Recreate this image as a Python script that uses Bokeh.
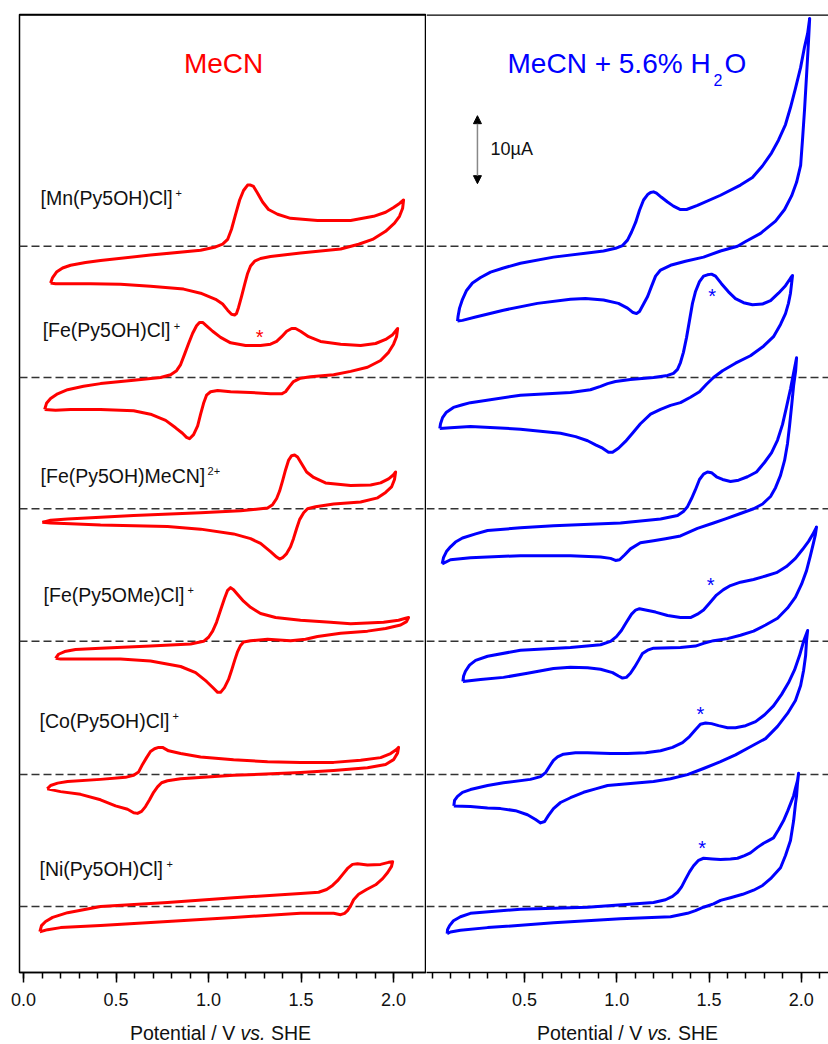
from bokeh.plotting import figure
from bokeh.layouts import row, column
from bokeh.models import (Span, Label, Arrow, NormalHead, FixedTicker, Range1d,
                          PrintfTickFormatter, Div)
from bokeh.embed import file_html
from bokeh.resources import INLINE

# ---------------- data: potential (V vs. SHE), current (µA, relative to baseline) ----
BASELINES = [106.8, 87.5, 68.2, 48.7, 29.1, 9.7]   # vertical offset of each trace (µA)
COMPOUNDS = ["[Mn(Py5OH)Cl]", "[Fe(Py5OH)Cl]", "[Fe(Py5OH)MeCN]",
             "[Fe(Py5OMe)Cl]", "[Co(Py5OH)Cl]", "[Ni(Py5OH)Cl]"]
CHARGES = ["+", "+", "2+", "+", "+", "+"]
MAJOR_TICKS_L = [0.0, 0.5, 1.0, 1.5, 2.0]
MAJOR_TICKS_R = [0.5, 1.0, 1.5, 2.0]
MINOR_TICKS = [0.0, 0.1, 0.2, 0.3, 0.4, 0.5, 0.6, 0.7, 0.8, 0.9, 1.0,
               1.1, 1.2, 1.3, 1.4, 1.5, 1.6, 1.7, 1.8, 1.9, 2.0, 2.1]

# ---- MeCN (left) ----
L_MN_E = [0.146, 0.157, 0.178, 0.211, 0.254, 0.335, 0.416, 0.686, 0.957, 1.038, 1.076, 1.103,
          1.124, 1.146, 1.168, 1.189, 1.211, 1.227, 1.243, 1.265, 1.292, 1.324, 1.373, 1.443,
          1.589, 1.768, 1.892, 1.957, 2.000, 2.032, 2.054,
          2.049, 2.032, 2.005, 1.957, 1.886, 1.811, 1.714, 1.497, 1.335, 1.281, 1.249, 1.227,
          1.211, 1.195, 1.178, 1.162, 1.151, 1.141, 1.124, 1.103, 1.076, 1.038, 0.957, 0.865,
          0.686, 0.524, 0.362, 0.238, 0.173, 0.146]
L_MN_I = [-5.4, -4.6, -3.8, -3.2, -2.8, -2.4, -2.1, -1.3, -0.6, -0.1, 0.3, 1.0,
          2.5, 4.7, 6.8, 8.2, 9.0, 9.0, 8.8, 7.8, 6.5, 5.4, 4.7, 4.1,
          3.8, 3.8, 4.4, 5.0, 5.7, 6.3, 6.8,
          5.6, 4.4, 3.4, 2.2, 1.0, 0.3, -0.4, -1.0, -1.5, -1.8, -2.2, -2.9,
          -4.0, -5.6, -7.4, -9.0, -9.9, -10.1, -10.0, -9.4, -8.5, -7.8, -6.9, -6.3,
          -5.9, -5.6, -5.5, -5.5, -5.5, -5.4]

L_FEOH_E = [0.114, 0.124, 0.146, 0.184, 0.238, 0.324, 0.416, 0.595, 0.741, 0.795, 0.827, 0.849,
            0.870, 0.892, 0.914, 0.935, 0.951, 0.968, 0.989, 1.022, 1.065, 1.119, 1.200, 1.281,
            1.335, 1.368, 1.395, 1.422, 1.449, 1.470, 1.497, 1.541, 1.605, 1.714, 1.822, 1.903,
            1.957, 1.995, 2.022,
            2.016, 2.000, 1.973, 1.930, 1.859, 1.768, 1.676, 1.551, 1.497, 1.459, 1.438, 1.416,
            1.395, 1.335, 1.227, 1.119, 1.049, 1.011, 0.989, 0.973, 0.957, 0.941, 0.919, 0.897,
            0.881, 0.859, 0.822, 0.768, 0.686, 0.595, 0.416, 0.254, 0.173, 0.114]
L_FEOH_I = [-4.7, -3.8, -3.1, -2.4, -1.8, -1.3, -0.9, -0.4, 0.0, 0.4, 1.0, 1.9,
            3.4, 5.0, 6.5, 7.6, 8.1, 8.1, 7.6, 6.8, 5.9, 5.1, 4.7, 4.7,
            4.9, 5.3, 6.0, 6.8, 7.2, 7.2, 6.8, 6.0, 5.3, 4.9, 4.7, 5.0,
            5.6, 6.3, 7.2,
            6.0, 4.9, 3.7, 2.5, 1.5, 0.9, 0.4, 0.1, -0.1, -0.6, -1.3, -2.1,
            -2.4, -2.4, -2.2, -2.1, -1.9, -2.1, -2.6, -3.8, -5.4, -7.1, -8.4, -9.0,
            -8.8, -8.2, -7.4, -6.3, -5.4, -4.9, -4.7, -4.7, -4.8, -4.7]

L_FEMECN_E = [0.101, 0.146, 0.238, 0.416, 0.595, 0.957, 1.173, 1.319, 1.346, 1.368, 1.384, 1.400,
              1.416, 1.432, 1.449, 1.465, 1.481, 1.503, 1.530, 1.568, 1.632, 1.768, 1.876, 1.930,
              1.973, 2.000, 2.011,
              2.005, 1.989, 1.957, 1.914, 1.822, 1.676, 1.578, 1.535, 1.514, 1.492, 1.476, 1.459,
              1.443, 1.422, 1.400, 1.384, 1.368, 1.335, 1.281, 1.227, 1.135, 0.957, 0.778, 0.416,
              0.254, 0.146, 0.101]
L_FEMECN_I = [-2.0, -1.7, -1.5, -1.25, -1.0, -0.6, -0.3, 0.1, 0.6, 1.5, 2.6, 4.1,
              5.7, 7.1, 7.8, 7.9, 7.6, 6.6, 5.4, 4.6, 3.8, 3.4, 3.5, 3.8,
              4.4, 5.0, 5.4,
              4.3, 3.2, 2.4, 1.6, 1.0, 0.7, 0.3, 0.0, -0.6, -1.6, -2.9, -4.4,
              -5.6, -6.6, -7.2, -7.4, -7.1, -6.3, -5.1, -4.4, -3.7, -3.0, -2.6, -2.4,
              -2.2, -2.1, -2.0]

L_FEOME_E = [0.173, 0.189, 0.222, 0.281, 0.416, 0.686, 0.903, 0.973, 1.000, 1.022, 1.043, 1.065,
             1.086, 1.103, 1.119, 1.135, 1.157, 1.189, 1.227, 1.281, 1.362, 1.497, 1.659, 1.768,
             1.946, 2.027, 2.065, 2.081,
             2.070, 2.038, 1.957, 1.859, 1.714, 1.589, 1.524, 1.443, 1.319, 1.227, 1.189, 1.173,
             1.157, 1.141, 1.124, 1.108, 1.086, 1.065, 1.049, 1.027, 0.989, 0.930, 0.849, 0.686,
             0.524, 0.308, 0.200, 0.173]
L_FEOME_I = [-2.5, -1.9, -1.5, -1.2, -1.0, -0.7, -0.4, 0.0, 0.6, 1.5, 2.8, 4.6,
             6.3, 7.5, 7.9, 7.6, 6.9, 5.9, 5.0, 4.1, 3.5, 3.1, 2.8, 2.6,
             2.8, 3.1, 3.4, 3.5,
             2.9, 2.4, 1.9, 1.5, 1.2, 0.7, 0.3, 0.1, 0.3, 0.1, -0.1, -0.6,
             -1.5, -2.8, -4.3, -5.6, -6.8, -7.5, -7.5, -6.9, -5.9, -4.6, -3.7, -2.9,
             -2.6, -2.6, -2.6, -2.5]

L_CO_E = [0.128, 0.146, 0.184, 0.238, 0.416, 0.551, 0.595, 0.622, 0.643, 0.665, 0.686, 0.708,
          0.730, 0.751, 0.784, 0.849, 0.957, 1.135, 1.319, 1.497, 1.676, 1.822, 1.930, 1.984,
          2.016, 2.027,
          2.022, 2.000, 1.957, 1.859, 1.676, 1.497, 1.135, 0.849, 0.778, 0.746, 0.724, 0.703,
          0.681, 0.659, 0.638, 0.616, 0.595, 0.562, 0.497, 0.416, 0.308, 0.200, 0.128]
L_CO_I = [-2.1, -1.6, -1.25, -1.0, -0.7, -0.4, -0.1, 0.4, 1.5, 2.5, 3.4, 3.8,
          4.0, 4.0, 3.5, 3.1, 2.6, 2.2, 1.9, 1.8, 1.8, 2.1, 2.5, 3.1,
          3.7, 4.0,
          3.2, 2.2, 1.5, 1.0, 0.6, 0.3, -0.1, -0.6, -0.9, -1.2, -1.8, -2.6,
          -3.7, -4.7, -5.4, -5.7, -5.6, -5.1, -4.6, -3.7, -2.9, -2.5, -2.1]

L_NI_E = [0.088, 0.097, 0.119, 0.157, 0.238, 0.416, 0.778, 1.135, 1.497, 1.595, 1.638, 1.670,
          1.697, 1.724, 1.751, 1.778, 1.805, 1.859, 1.930, 1.973, 1.995,
          1.989, 1.968, 1.941, 1.903, 1.854, 1.811, 1.784, 1.768, 1.751, 1.735, 1.714, 1.676,
          1.497, 1.135, 0.778, 0.416, 0.200, 0.130, 0.088]
L_NI_I = [-3.7, -2.8, -2.2, -1.6, -0.9, 0.0, 0.6, 1.3, 1.9, 2.1, 2.5, 3.1,
          3.8, 4.7, 5.6, 6.2, 6.3, 6.1, 6.2, 6.5, 6.6,
          5.9, 5.0, 4.1, 3.2, 2.5, 1.8, 1.0, 0.1, -0.6, -1.0, -1.2, -1.0,
          -1.0, -1.6, -2.2, -2.8, -3.1, -3.4, -3.7]

# ---- MeCN + 5.6% H2O (right) ----
R_MN_E = [0.137, 0.140, 0.148, 0.164, 0.186, 0.218, 0.262, 0.316, 0.386, 0.478, 0.657, 0.928,
          0.993, 1.031, 1.058, 1.080, 1.102, 1.123, 1.145, 1.167, 1.183, 1.199, 1.215, 1.242,
          1.275, 1.307, 1.345, 1.378, 1.437, 1.562, 1.670, 1.735, 1.789, 1.838, 1.876, 1.914,
          1.941, 1.968, 1.996, 2.017, 2.034, 2.045,
          2.039, 2.028, 2.017, 2.006, 1.996, 1.974, 1.947, 1.909, 1.860, 1.779, 1.698, 1.654,
          1.562, 1.470, 1.372, 1.291, 1.237, 1.210, 1.188, 1.167, 1.145, 1.123, 1.107, 1.085,
          1.058, 1.009, 0.928, 0.830, 0.749, 0.570, 0.386, 0.235, 0.164, 0.137]
R_MN_I = [-11.0, -10.3, -9.1, -7.8, -6.5, -5.4, -4.6, -3.8, -3.2, -2.5, -1.6, -0.7,
          -0.3, 0.1, 0.9, 2.1, 3.5, 5.3, 6.8, 7.6, 7.9, 8.0, 7.8, 7.2,
          6.5, 5.9, 5.4, 5.4, 6.0, 7.5, 9.0, 10.1, 11.8, 13.7, 15.6, 17.9,
          20.4, 23.2, 26.3, 29.3, 31.3, 33.5,
          30.3, 25.1, 20.0, 15.6, 11.9, 9.4, 7.4, 5.4, 3.7, 1.9, 0.7, 0.0,
          -0.7, -1.6, -2.2, -2.8, -3.5, -4.4, -5.9, -7.4, -8.5, -9.6, -9.9, -9.7,
          -9.1, -8.4, -7.9, -7.7, -7.8, -8.4, -9.4, -10.4, -10.9, -11.0]

R_FEOH_E = [0.041, 0.045, 0.056, 0.077, 0.115, 0.164, 0.207, 0.478, 0.749, 0.857, 0.912, 0.950,
            0.993, 1.074, 1.199, 1.275, 1.307, 1.329, 1.345, 1.361, 1.378, 1.394, 1.410, 1.426,
            1.448, 1.470, 1.491, 1.513, 1.535, 1.567, 1.605, 1.643, 1.687, 1.735, 1.789, 1.833,
            1.876, 1.914, 1.941, 1.952,
            1.947, 1.941, 1.930, 1.914, 1.887, 1.849, 1.795, 1.724, 1.643, 1.573, 1.524, 1.486,
            1.448, 1.399, 1.345, 1.291, 1.237, 1.183, 1.128, 1.085, 1.047, 1.009, 0.977, 0.955,
            0.923, 0.885, 0.842, 0.777, 0.695, 0.478, 0.207, 0.099, 0.041]
R_FEOH_I = [-7.5, -6.8, -5.9, -5.1, -4.4, -4.0, -3.7, -2.6, -2.2, -1.8, -1.3, -0.9,
            -0.6, -0.3, 0.0, 0.3, 0.6, 1.2, 2.2, 3.7, 5.9, 8.4, 10.9, 12.6,
            14.1, 14.9, 15.1, 15.2, 14.9, 13.8, 12.6, 11.6, 11.0, 10.7, 10.8, 11.3,
            12.4, 13.5, 14.6, 15.0,
            13.8, 12.4, 10.9, 9.4, 7.8, 6.0, 4.6, 3.2, 2.1, 1.0, 0.0, -1.0,
            -2.1, -2.9, -3.7, -4.1, -4.7, -5.4, -6.8, -8.2, -9.4, -10.4, -11.0, -11.0,
            -10.4, -9.9, -9.3, -8.7, -8.2, -7.6, -7.2, -7.4, -7.5]

R_FEMECN_E = [0.054, 0.061, 0.077, 0.099, 0.126, 0.164, 0.235, 0.300, 0.478, 0.657, 1.020, 1.237,
              1.329, 1.361, 1.383, 1.405, 1.426, 1.448, 1.470, 1.491, 1.513, 1.540, 1.573, 1.616,
              1.660, 1.708, 1.757, 1.800, 1.838, 1.871, 1.898, 1.919, 1.941, 1.958, 1.974,
              1.969, 1.958, 1.947, 1.936, 1.925, 1.909, 1.887, 1.860, 1.833, 1.790, 1.741, 1.670,
              1.589, 1.524, 1.437, 1.345, 1.264, 1.199, 1.128, 1.074, 1.042, 1.015, 0.993, 0.966,
              0.912, 0.749, 0.478, 0.207, 0.099, 0.054]
R_FEMECN_I = [-8.1, -7.2, -6.3, -5.6, -4.9, -4.3, -3.7, -3.2, -2.8, -2.5, -2.1, -1.5,
              -1.0, -0.4, 0.3, 1.5, 2.8, 4.3, 5.1, 5.4, 5.3, 4.7, 4.3, 4.0,
              4.2, 4.7, 5.4, 6.8, 8.2, 10.1, 12.4, 14.9, 17.6, 20.0, 22.2,
              20.3, 18.1, 15.1, 12.2, 9.6, 7.1, 4.9, 3.1, 1.8, 0.7, 0.0, -0.7,
              -1.5, -2.1, -2.9, -4.0, -4.4, -4.7, -5.0, -5.9, -6.8, -7.5, -7.6, -7.3,
              -7.1, -6.9, -6.9, -7.2, -7.5, -8.1]

R_FEOME_E = [0.166, 0.170, 0.180, 0.202, 0.235, 0.300, 0.478, 0.749, 0.912, 0.966, 0.998, 1.025,
             1.052, 1.080, 1.102, 1.123, 1.156, 1.210, 1.275, 1.345, 1.399, 1.437, 1.470, 1.502,
             1.540, 1.578, 1.616, 1.670, 1.741, 1.806, 1.865, 1.919, 1.968, 2.006, 2.039, 2.061,
             2.082,
             2.076, 2.065, 2.049, 2.028, 2.001, 1.968, 1.925, 1.871, 1.806, 1.741, 1.670, 1.600,
             1.524, 1.470, 1.426, 1.345, 1.199, 1.167, 1.139, 1.118, 1.096, 1.074, 1.052, 1.031,
             1.009, 0.977, 0.912, 0.842, 0.749, 0.657, 0.516, 0.386, 0.262, 0.166]
R_FEOME_I = [-5.9, -5.1, -4.4, -3.5, -2.8, -2.2, -1.3, -0.9, -0.5, 0.0, 0.7, 1.6,
             2.8, 4.0, 4.6, 4.8, 4.6, 4.3, 3.8, 3.5, 3.5, 4.0, 4.6, 5.6,
             6.8, 7.6, 8.2, 8.7, 9.1, 9.6, 10.1, 11.0, 12.2, 13.5, 14.7, 15.7,
             16.8,
             15.7, 14.4, 12.6, 10.4, 8.4, 6.5, 4.9, 3.4, 2.4, 1.5, 0.9, 0.4,
             0.1, -0.3, -0.7, -0.9, -1.0, -1.3, -1.8, -2.8, -3.8, -4.7, -5.3, -5.4,
             -5.1, -4.6, -4.1, -3.9, -3.8, -4.0, -4.7, -5.3, -5.6, -5.9]

R_CO_E = [0.117, 0.121, 0.137, 0.164, 0.207, 0.300, 0.386, 0.532, 0.587, 0.614, 0.635, 0.657,
          0.679, 0.711, 0.776, 0.841, 0.966, 1.058, 1.156, 1.237, 1.302, 1.356, 1.394, 1.426,
          1.453, 1.481, 1.513, 1.551, 1.600, 1.643, 1.698, 1.752, 1.801, 1.849, 1.893, 1.930,
          1.963, 1.990, 2.012, 2.034,
          2.028, 2.023, 2.012, 1.996, 1.968, 1.925, 1.871, 1.806, 1.724, 1.643, 1.562, 1.470,
          1.383, 1.291, 1.199, 1.074, 0.950, 0.885, 0.820, 0.749, 0.695, 0.657, 0.630, 0.609,
          0.587, 0.560, 0.516, 0.451, 0.370, 0.300, 0.207, 0.117]
R_CO_I = [-4.6, -3.8, -3.2, -2.6, -2.2, -1.6, -1.2, -0.7, -0.3, 0.3, 1.2, 2.1,
          2.6, 3.0, 3.2, 3.2, 3.1, 3.1, 3.2, 3.5, 4.0, 4.7, 5.6, 6.6,
          7.4, 7.6, 7.5, 7.2, 6.9, 6.9, 7.2, 7.8, 8.8, 10.1, 11.8, 13.5,
          15.4, 17.5, 19.6, 21.2,
          19.7, 17.5, 15.3, 13.1, 10.9, 9.0, 7.1, 5.3, 4.1, 2.9, 1.9, 0.9,
          0.0, -0.6, -1.0, -1.3, -1.6, -2.1, -2.6, -3.4, -4.1, -5.0, -6.0, -6.9,
          -7.1, -6.6, -5.9, -5.3, -5.0, -4.9, -4.7, -4.6]

R_NI_E = [0.081, 0.083, 0.094, 0.115, 0.153, 0.207, 0.478, 0.841, 1.199, 1.264, 1.302, 1.329,
          1.351, 1.372, 1.394, 1.416, 1.443, 1.470, 1.518, 1.562, 1.616, 1.654, 1.692, 1.724,
          1.762, 1.795, 1.822, 1.849, 1.876, 1.903, 1.925, 1.941, 1.958, 1.968, 1.979, 1.985,
          1.979, 1.974, 1.968, 1.958, 1.941, 1.914, 1.887, 1.860, 1.833, 1.790, 1.741, 1.682,
          1.616, 1.562, 1.524, 1.470, 1.426, 1.383, 1.291, 1.020, 0.657, 0.300, 0.153, 0.099,
          0.081]
R_NI_I = [-4.0, -3.4, -2.8, -2.1, -1.5, -1.0, -0.4, -0.1, 0.6, 1.0, 1.5, 2.1,
          2.9, 4.0, 5.1, 6.0, 6.8, 7.1, 7.0, 6.9, 7.0, 7.1, 7.5, 7.9,
          8.7, 9.3, 9.7, 10.1, 11.3, 12.6, 14.0, 15.1, 16.3, 17.4, 18.5, 19.6,
          18.1, 16.3, 15.1, 12.6, 9.7, 7.5, 5.7, 4.9, 4.1, 3.1, 2.4, 1.8,
          1.3, 0.9, 0.4, -0.1, -0.6, -1.0, -1.5, -1.8, -2.4, -3.1, -3.5, -3.75,
          -4.0]

LEFT = [(L_MN_E, L_MN_I), (L_FEOH_E, L_FEOH_I), (L_FEMECN_E, L_FEMECN_I),
        (L_FEOME_E, L_FEOME_I), (L_CO_E, L_CO_I), (L_NI_E, L_NI_I)]
RIGHT = [(R_MN_E, R_MN_I), (R_FEOH_E, R_FEOH_I), (R_FEMECN_E, R_FEMECN_I),
         (R_FEOME_E, R_FEOME_I), (R_CO_E, R_CO_I), (R_NI_E, R_NI_I)]

# asterisk marks (E, y)
STAR_L = [(1.276, 92.2)]
STAR_R = [(1.517, 98.3), (1.508, 55.7), (1.453, 36.8), (1.463, 17.0)]

# ---------------- layout / style ----------------
FONT = "Liberation Sans"
RED = "#ff0000"
BLUE = "#0000ff"
Y_TOP = 140.88
FRAME_H = 958
LABEL_POS = [(0.092, 113.0), (0.103, 93.5), (0.092, 72.1), (0.108, 54.6), (0.086, 36.1), (0.086, 14.3)]
SUP_OFFSET = [135, 131, 167, 144, 133, 127]
AXIS_TITLE = "Potential / V <i>vs.</i> SHE"
SPAN_STYLE = ("position:absolute;top:3px;left:{l}px;white-space:nowrap;"
              "font-family:'Liberation Sans',Arial,sans-serif;font-size:19.5px;"
              "line-height:22px;color:#111111")
AXIS_HTML = ('<div style="position:relative;width:820px;height:24px;margin:0;padding:0">'
             '<span style="' + SPAN_STYLE.format(l=125) + '">' + AXIS_TITLE + '</span>'
             '<span style="' + SPAN_STYLE.format(l=532) + '">' + AXIS_TITLE + '</span></div>')


def make_fig(xr, fw, border_left):
    p = figure(frame_width=fw, frame_height=FRAME_H, x_range=xr, y_range=Range1d(0, Y_TOP),
               output_backend="svg", toolbar_location=None, y_axis_location=None,
               min_border_left=border_left, min_border_right=0, min_border_top=14,
               min_border_bottom=42)
    p.xgrid.visible = False
    p.ygrid.visible = False
    p.background_fill_color = "white"
    p.border_fill_color = "white"
    ax = p.xaxis[0]
    ax.formatter = PrintfTickFormatter(format="%.1f")
    ax.major_tick_out = 10
    ax.major_tick_in = 0
    ax.minor_tick_out = 6
    ax.minor_tick_in = 0
    ax.major_tick_line_width = 1.5
    ax.minor_tick_line_width = 1.5
    ax.major_tick_line_color = "black"
    ax.minor_tick_line_color = "black"
    ax.axis_line_color = "black"
    ax.axis_line_width = 1.5
    ax.major_label_text_font = FONT
    ax.major_label_text_font_size = "18px"
    ax.major_label_text_color = "#111111"
    ax.major_label_standoff = 10
    # top border
    p.add_layout(Span(location=Y_TOP, dimension="width", line_color="black", line_width=2.5))
    # baselines
    for b in BASELINES:
        p.add_layout(Span(location=b, dimension="width", line_color="#333333",
                          line_dash="8 4", line_width=1.5, level="underlay"))
    return p


def label(p, x, y, text, fs, color="#111111", dx=0, dy=0, align="left", style="normal"):
    p.add_layout(Label(x=x, y=y, x_offset=dx, y_offset=dy, text=text, text_font=FONT,
                       text_font_size=fs, text_color=color, text_align=align,
                       text_font_style=style, text_baseline="alphabetic"))


# ---- left panel ----
p1 = make_fig(Range1d(-0.022, 2.178), 407, 19)
p1.outline_line_color = "black"
p1.outline_line_width = 1.5
p1.xaxis[0].ticker = FixedTicker(ticks=MAJOR_TICKS_L, minor_ticks=MINOR_TICKS)
for (E, I), b in zip(LEFT, BASELINES):
    p1.line(E, [b + v for v in I], line_color=RED, line_width=3, line_join="round")
label(p1, 1.081, 132.25, "MeCN", "28px", RED, dy=10, align="center")
for name, chg, (lx, ly), so in zip(COMPOUNDS, CHARGES, LABEL_POS, SUP_OFFSET):
    label(p1, lx, ly, name, "19.5px", dy=6.5)
    label(p1, lx, ly, chg, "11px", dx=so, dy=11)
for sx, sy in STAR_L:
    label(p1, sx, sy, "*", "20px", RED, dy=8.5, align="center")

# ---- right panel ----
p2 = make_fig(Range1d(-0.031, 2.147), 402, 0)
p2.outline_line_color = None
p2.xaxis[0].ticker = FixedTicker(ticks=MAJOR_TICKS_R, minor_ticks=MINOR_TICKS)
for (E, I), b in zip(RIGHT, BASELINES):
    p2.line(E, [b + v for v in I], line_color=BLUE, line_width=3, line_join="round")
label(p2, 0.408, 132.25, "MeCN + 5.6% H", "28px", BLUE, dy=10)
label(p2, 0.408, 132.25, "2", "16px", BLUE, dx=206, dy=-7)
label(p2, 0.408, 132.25, "O", "28px", BLUE, dx=217, dy=10)
for sx, sy in STAR_R:
    label(p2, sx, sy, "*", "20px", BLUE, dy=8.5, align="center")
# 10 µA scale bar
p2.add_layout(Arrow(start=NormalHead(size=8, fill_color="black", line_color="black"),
                    end=NormalHead(size=8, fill_color="black", line_color="black"),
                    x_start=0.245, y_start=116.0, x_end=0.245, y_end=126.0,
                    line_color="#888888", line_width=1.5))
label(p2, 0.316, 120.1, "10µA", "18px", dy=7)

axis_div = Div(text=AXIS_HTML, width=820, height=24)

layout = column(row(p1, p2), axis_div)
open("out.html", "w").write(file_html(layout, INLINE))
